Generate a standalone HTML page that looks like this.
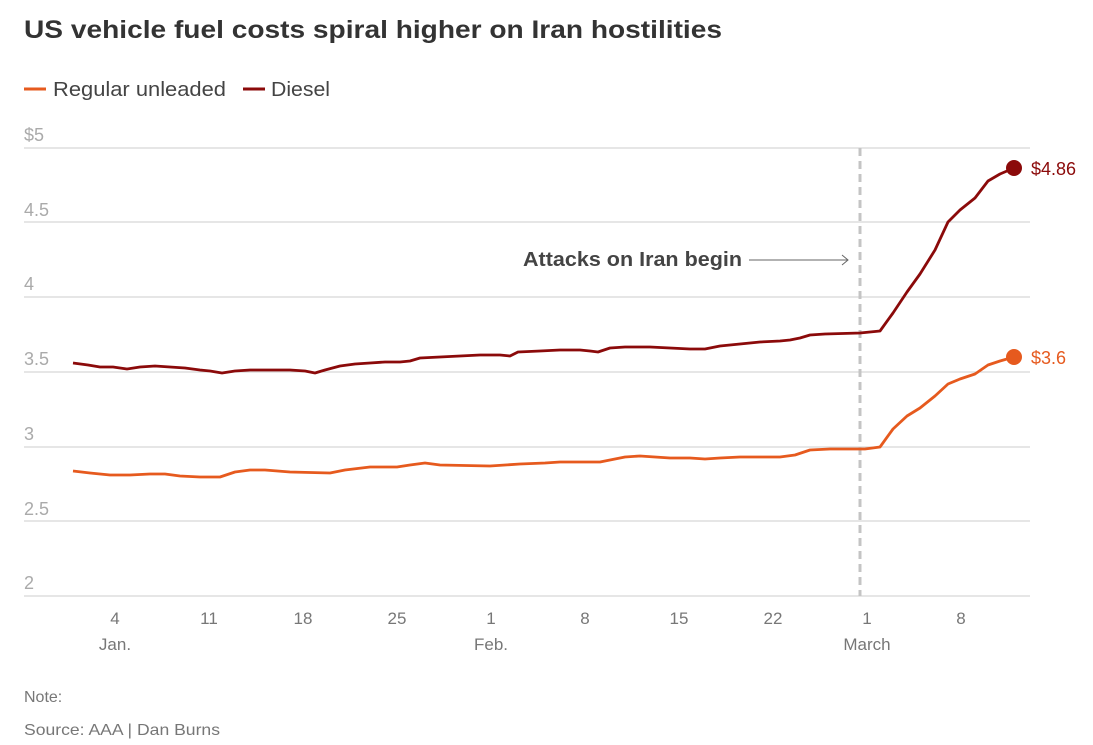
<!DOCTYPE html>
<html><head><meta charset="utf-8"><style>
body{margin:0;background:#fff;width:1093px;height:740px;overflow:hidden;font-family:"Liberation Sans",sans-serif}
</style></head><body>
<svg width="1093" height="740" xmlns="http://www.w3.org/2000/svg" font-family="Liberation Sans, sans-serif">
<text x="24" y="38" font-size="25" font-weight="bold" fill="#333" textLength="698" lengthAdjust="spacingAndGlyphs">US vehicle fuel costs spiral higher on Iran hostilities</text>
<line x1="24" y1="89" x2="46" y2="89" stroke="#e65a1e" stroke-width="3"/>
<text x="53" y="96" font-size="20" fill="#444" textLength="173" lengthAdjust="spacingAndGlyphs">Regular unleaded</text>
<line x1="243" y1="89" x2="265" y2="89" stroke="#8b0a0a" stroke-width="3"/>
<text x="271" y="96" font-size="20" fill="#444" textLength="59" lengthAdjust="spacingAndGlyphs">Diesel</text>
<g stroke="#ccc" stroke-width="1">
<line x1="24" y1="148" x2="1030" y2="148"/><line x1="24" y1="222" x2="1030" y2="222"/>
<line x1="24" y1="297" x2="1030" y2="297"/><line x1="24" y1="372" x2="1030" y2="372"/>
<line x1="24" y1="447" x2="1030" y2="447"/><line x1="24" y1="521" x2="1030" y2="521"/>
<line x1="24" y1="596" x2="1030" y2="596"/>
</g>
<g font-size="18" fill="#aaa">
<text x="24" y="141">$5</text><text x="24" y="216">4.5</text><text x="24" y="290">4</text>
<text x="24" y="365">3.5</text><text x="24" y="440">3</text><text x="24" y="515">2.5</text><text x="24" y="589">2</text>
</g>
<g font-size="17" fill="#777" text-anchor="middle">
<text x="115" y="624">4</text><text x="209" y="624">11</text><text x="303" y="624">18</text><text x="397" y="624">25</text>
<text x="491" y="624">1</text><text x="585" y="624">8</text><text x="679" y="624">15</text><text x="773" y="624">22</text>
<text x="867" y="624">1</text><text x="961" y="624">8</text>
<text x="115" y="650">Jan.</text><text x="491" y="650">Feb.</text><text x="867" y="650">March</text>
</g>
<line x1="860" y1="148" x2="860" y2="596" stroke="#c4c4c4" stroke-width="3" stroke-dasharray="8,5"/>
<text x="523" y="266" font-size="20" font-weight="bold" fill="#444" textLength="219" lengthAdjust="spacingAndGlyphs">Attacks on Iran begin</text>
<line x1="749" y1="260" x2="848" y2="260" stroke="#666" stroke-width="1"/>
<polyline points="842,255 848,260 842,265" fill="none" stroke="#666" stroke-width="1"/>
<polyline fill="none" stroke="#8b0a0a" stroke-width="2.8" stroke-linejoin="round" points="73,363 88,365 100,367 113,367 127,369 140,367 155,366 170,367 185,368 200,370 210,371 222,373 235,371 250,370 290,370 305,371 315,373 325,370 340,366 355,364 370,363 385,362 400,362 410,361 420,358 440,357 460,356 480,355 500,355 510,356 518,352 540,351 560,350 580,350 590,351 598,352 610,348 625,347 650,347 670,348 690,349 705,349 720,346 740,344 760,342 780,341 790,340 800,338 810,335 825,334 860,333 880,331 893,313 907,292 920,274 935,250 948,222 960,210 975,198 988,181 1000,174 1014,168"/>
<polyline fill="none" stroke="#e65a1e" stroke-width="2.8" stroke-linejoin="round" points="73,471 90,473 110,475 130,475 150,474 165,474 180,476 200,477 220,477 235,472 250,470 265,470 290,472 330,473 345,470 370,467 397,467 410,465 425,463 440,465 490,466 520,464 545,463 560,462 600,462 610,460 625,457 640,456 655,457 670,458 690,458 705,459 720,458 740,457 780,457 795,455 810,450 830,449 865,449 880,447 893,429 907,416 920,408 935,396 948,384 960,379 975,374 988,365 1000,361 1014,357"/>
<circle cx="1014" cy="168" r="8" fill="#8b0a0a"/>
<circle cx="1014" cy="357" r="8" fill="#e65a1e"/>
<text x="1031" y="175" font-size="18" fill="#8b0a0a">$4.86</text>
<text x="1031" y="364" font-size="18" fill="#e65a1e">$3.6</text>
<text x="24" y="702" font-size="16" fill="#777">Note:</text>
<text x="24" y="735" font-size="16" fill="#777" textLength="196" lengthAdjust="spacingAndGlyphs">Source: AAA | Dan Burns</text>
</svg>
</body></html>
